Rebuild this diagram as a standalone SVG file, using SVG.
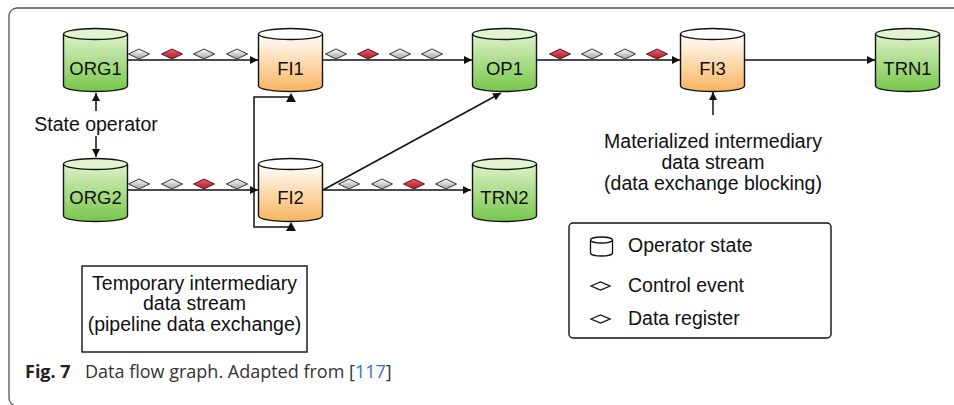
<svg xmlns="http://www.w3.org/2000/svg" width="954" height="405" viewBox="0 0 954 405">
  <style>
    .frame { fill: none; stroke: #555; stroke-width: 1.3; }
    .cyl { stroke: #111; stroke-width: 1.4; }
    .lbl { font-family: "Liberation Sans", Arial, sans-serif; font-size: 18.5px; fill: #111; text-anchor: middle; }
    .txt { font-family: "Liberation Sans", Arial, sans-serif; font-size: 19.5px; fill: #111; }
    .mid { text-anchor: middle; }
    .edge { fill: none; stroke: #111; stroke-width: 1.5; }
    .dg { fill: url(#gGray); stroke: #333; stroke-width: 1; }
    .dr { fill: url(#gRed); stroke: #6a1020; stroke-width: 1; }
    .dl { fill: #fff; stroke: #111; stroke-width: 1.3; }
    .cap { font-family: "Open Sans", "Noto Sans", sans-serif; font-size: 18px; fill: #333; }
  </style>
  <defs>
    <linearGradient id="gGreen" x1="0" y1="0" x2="0" y2="1">
      <stop offset="0" stop-color="#def2c9"/>
      <stop offset="1" stop-color="#76c64a"/>
    </linearGradient>
    <linearGradient id="gOrange" x1="0" y1="0" x2="0" y2="1">
      <stop offset="0" stop-color="#ffffff"/>
      <stop offset="1" stop-color="#f8b45e"/>
    </linearGradient>
    <linearGradient id="gGray" x1="0" y1="0" x2="0" y2="1">
      <stop offset="0" stop-color="#ffffff"/>
      <stop offset="1" stop-color="#a0a0a0"/>
    </linearGradient>
    <linearGradient id="gRed" x1="0" y1="0" x2="0" y2="1">
      <stop offset="0" stop-color="#e8606c"/>
      <stop offset="1" stop-color="#a81c2c"/>
    </linearGradient>
    <marker id="arr" viewBox="0 0 10 10" refX="10" refY="5" markerWidth="8" markerHeight="8" markerUnits="userSpaceOnUse" orient="auto">
      <path d="M0,0 L10,5 L0,10 z" fill="#111"/>
    </marker>
    <!-- cylinder: 65 wide, 64 tall, origin at top-left -->
    <symbol id="cylG" overflow="visible">
      <path class="cyl" fill="url(#gGreen)" d="M0.5,6 V58 A32,5.5 0 0 0 64.5,58 V6"/>
      <ellipse class="cyl" cx="32.5" cy="6" rx="32" ry="5.5" fill="#e2f4d0"/>
    </symbol>
    <symbol id="cylO" overflow="visible">
      <path class="cyl" fill="url(#gOrange)" d="M0.5,6 V58 A32,5.5 0 0 0 64.5,58 V6"/>
      <ellipse class="cyl" cx="32.5" cy="6" rx="32" ry="5.5" fill="#ffffff"/>
    </symbol>
    <polygon id="dia" points="-10.5,0 0,-5 10.5,0 0,5"/>
  </defs>

  <rect class="frame" x="9" y="8" width="970" height="398" rx="8"/>

  <!-- connectors -->
  <g id="connectors">
    <line class="edge" x1="128" y1="60" x2="258" y2="60" marker-end="url(#arr)"/>
    <line class="edge" x1="323" y1="60" x2="472" y2="60" marker-end="url(#arr)"/>
    <line class="edge" x1="537" y1="60" x2="680" y2="60" marker-end="url(#arr)"/>
    <line class="edge" x1="745" y1="60" x2="875" y2="60" marker-end="url(#arr)"/>
    <line class="edge" x1="128" y1="190" x2="258" y2="190" marker-end="url(#arr)"/>
    <line class="edge" x1="323" y1="190" x2="471" y2="190" marker-end="url(#arr)"/>
    <line class="edge" x1="323" y1="190" x2="501" y2="93" marker-end="url(#arr)"/>
    <path class="edge" d="M254,190 V97 H291"/>
    <path class="edge" d="M254,190 V227 H291"/>
    <polygon points="291,93 286,102 296,102" fill="#111"/>
    <polygon points="291,222 286,231 296,231" fill="#111"/>
    <!-- state operator link -->
    <line class="edge" x1="96" y1="111" x2="96" y2="93" marker-end="url(#arr)"/>
    <line class="edge" x1="96" y1="136" x2="96" y2="157" marker-end="url(#arr)"/>
    <!-- materialized stream pointer -->
    <line class="edge" x1="713" y1="115" x2="713" y2="92" marker-end="url(#arr)"/>

    <!-- events on the streams -->
    <use href="#dia" class="dg" x="139" y="54"/>
    <use href="#dia" class="dr" x="172" y="54"/>
    <use href="#dia" class="dg" x="204" y="54"/>
    <use href="#dia" class="dg" x="237" y="54"/>

    <use href="#dia" class="dg" x="336" y="54"/>
    <use href="#dia" class="dr" x="368" y="54"/>
    <use href="#dia" class="dg" x="400" y="54"/>
    <use href="#dia" class="dg" x="432" y="54"/>

    <use href="#dia" class="dr" x="560" y="54"/>
    <use href="#dia" class="dg" x="592" y="54"/>
    <use href="#dia" class="dg" x="625" y="54"/>
    <use href="#dia" class="dr" x="657" y="54"/>

    <use href="#dia" class="dg" x="139" y="184"/>
    <use href="#dia" class="dg" x="172" y="184"/>
    <use href="#dia" class="dr" x="204" y="184"/>
    <use href="#dia" class="dg" x="237" y="184"/>

    <use href="#dia" class="dg" x="349" y="184"/>
    <use href="#dia" class="dg" x="382" y="184"/>
    <use href="#dia" class="dr" x="414" y="184"/>
    <use href="#dia" class="dg" x="446" y="184"/>
  </g>

  <!-- operators -->
  <g id="ORG1"><use href="#cylG" x="63" y="28"/><text class="lbl" x="95.5" y="75">ORG1</text></g>
  <g id="FI1"><use href="#cylO" x="258" y="28"/><text class="lbl" x="290.5" y="75">FI1</text></g>
  <g id="OP1"><use href="#cylG" x="472" y="28"/><text class="lbl" x="504.5" y="75">OP1</text></g>
  <g id="FI3"><use href="#cylO" x="680" y="28"/><text class="lbl" x="712.5" y="75">FI3</text></g>
  <g id="TRN1"><use href="#cylG" x="875" y="28"/><text class="lbl" x="907.5" y="75">TRN1</text></g>
  <g id="ORG2"><use href="#cylG" x="63" y="158"/><text class="lbl" x="95.5" y="204">ORG2</text></g>
  <g id="FI2"><use href="#cylO" x="258" y="158"/><text class="lbl" x="290.5" y="204">FI2</text></g>
  <g id="TRN2"><use href="#cylG" x="472" y="158"/><text class="lbl" x="504.5" y="204">TRN2</text></g>

  <!-- annotations -->
  <g id="state-operator">
    <text class="txt mid" x="96" y="131">State operator</text>
  </g>
  <g id="materialized">
    <text class="txt mid" x="713" y="148">Materialized intermediary</text>
    <text class="txt mid" x="713" y="169">data stream</text>
    <text class="txt mid" x="713" y="190">(data exchange blocking)</text>
  </g>
  <g id="temporary">
    <rect x="82" y="266" width="225" height="86" fill="#fff" stroke="#111" stroke-width="1.4"/>
    <text class="txt mid" x="194.5" y="290">Temporary intermediary</text>
    <text class="txt mid" x="194.5" y="310">data stream</text>
    <text class="txt mid" x="194.5" y="331">(pipeline data exchange)</text>
  </g>

  <!-- legend -->
  <g id="legend">
    <rect x="569" y="223" width="262" height="115" rx="4" fill="#fff" stroke="#111" stroke-width="1.4"/>
    <path d="M590.5,240 V253 A11,3 0 0 0 612.5,253 V240" fill="#fff" stroke="#111" stroke-width="1.3"/>
    <ellipse cx="601.5" cy="240" rx="11" ry="3" fill="#fff" stroke="#111" stroke-width="1.3"/>
    <text class="txt" x="628" y="252">Operator state</text>
    <polygon class="dl" points="591,286 600.5,282 610,286 600.5,290"/>
    <text class="txt" x="628" y="292">Control event</text>
    <polygon class="dl" points="591,319 600.5,315 610,319 600.5,323"/>
    <text class="txt" x="628" y="325">Data register</text>
  </g>

  <!-- caption -->
  <text class="cap" x="25" y="378"><tspan font-weight="bold" fill="#222">Fig. 7</tspan><tspan x="85">Data flow graph. Adapted from [</tspan><tspan fill="#3a6fd0">117</tspan><tspan>]</tspan></text>
</svg>
